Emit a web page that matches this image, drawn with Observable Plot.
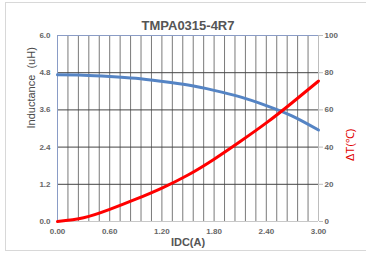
<!DOCTYPE html>
<html>
<head>
<meta charset="utf-8">
<script src="https://cdn.jsdelivr.net/npm/d3@7"></script>
<script src="https://cdn.jsdelivr.net/npm/@observablehq/plot@0.6"></script>
<style>
  html, body { margin: 0; padding: 0; background: #fff; }
  #wrap { position: relative; width: 366px; height: 256px; overflow: hidden; }
  #border { position: absolute; left: 5px; top: 2px; width: 370px; height: 249px; border: 1px solid #d8d8d8; box-sizing: border-box; }
  #chart { position: absolute; left: 0; top: 0; }
</style>
</head>
<body>
<div id="wrap"><div id="border"></div><div id="chart"></div></div>
<script>
const title = "TMPA0315-4R7";
const idc = [0, 0.3, 0.6, 0.9, 1.2, 1.5, 1.8, 2.1, 2.4, 2.7, 3.0];
const inductance = [4.73, 4.72, 4.68, 4.62, 4.52, 4.40, 4.23, 4.02, 3.74, 3.40, 2.95];
const deltaT = [0, 2.0, 6.5, 12, 18, 25, 33.5, 43, 53, 64, 75.5];
const xTicks = [0, 0.6, 1.2, 1.8, 2.4, 3.0];
const yTicks = [0, 1.2, 2.4, 3.6, 4.8, 6.0];
const rightTicks = [0, 20, 40, 60, 80, 100];
const gridX = d3.range(26).map(i => i * 0.12);
const gridY = [1.2, 2.4, 3.6, 4.8];

const rightMax = 100, leftMax = 6;
const toLeft = v => v * leftMax / rightMax;

const indData = idc.map((x, i) => ({x, v: inductance[i]}));
const dtData = idc.map((x, i) => ({x, v: deltaT[i]}));

const font = "Liberation Sans, Arial, sans-serif";

const chart = Plot.plot({
  width: 366,
  height: 256,
  marginLeft: 57,
  marginRight: 48,
  marginTop: 35,
  marginBottom: 35,
  style: {fontFamily: font, fontSize: "8px", fontWeight: "bold", color: "#666", background: "transparent"},
  x: {domain: [0, 3]},
  y: {domain: [0, 6]},
  marks: [
    Plot.ruleX(gridX, {stroke: "#7a7a7a", strokeWidth: 1, y1: 0, y2: 6}),
    Plot.ruleY(gridY, {stroke: "#444", strokeWidth: 1}),
    Plot.ruleY([6], {stroke: "#8a9cc6", strokeWidth: 1}),
    Plot.ruleY([0], {stroke: "#c8c8c8", strokeWidth: 1}),
    Plot.ruleX([0], {stroke: "#8a9cc6", strokeWidth: 1}),
    Plot.ruleX([3], {stroke: "#bdbdbd", strokeWidth: 1}),
    Plot.axisY({ticks: yTicks, tickFormat: d => d.toFixed(1), tickSize: 0, tickPadding: 7, label: null, fill: "#666"}),
    Plot.axisY({anchor: "right", ticks: yTicks, tickFormat: (d, i) => String(rightTicks[i]), tickSize: 4, tickPadding: 2, stroke: "#bdbdbd", label: null, fill: "#666"}),
    Plot.axisX({ticks: xTicks, tickFormat: d => d.toFixed(2), tickSize: 0, tickPadding: 7, label: null, fill: "#666"}),
    Plot.line(indData, {x: "x", y: "v", curve: "natural", stroke: "#5584c4", strokeWidth: 3}),
    Plot.line(dtData, {x: "x", y: d => toLeft(d.v), curve: "natural", stroke: "#ff0000", strokeWidth: 3}),
    Plot.text([title], {frameAnchor: "top", dy: -15, fontSize: 13, fontWeight: "bold", fill: "#555", fontFamily: font}),
    Plot.text(["Inductance  (uH)"], {frameAnchor: "left", dx: -26, rotate: -90, fontSize: 11, fontWeight: "normal", fill: "#4a4a4a", fontFamily: font}),
    Plot.text(["ΔT(℃)"], {frameAnchor: "right", dx: 32, rotate: -90, fontSize: 11, fontWeight: "normal", fill: "#e00000", fontFamily: font}),
    Plot.text(["IDC(A)"], {frameAnchor: "bottom", dy: 24, fontSize: 11, fontWeight: "bold", fill: "#555", fontFamily: font})
  ]
});
document.getElementById("chart").appendChild(chart);
</script>
</body>
</html>
